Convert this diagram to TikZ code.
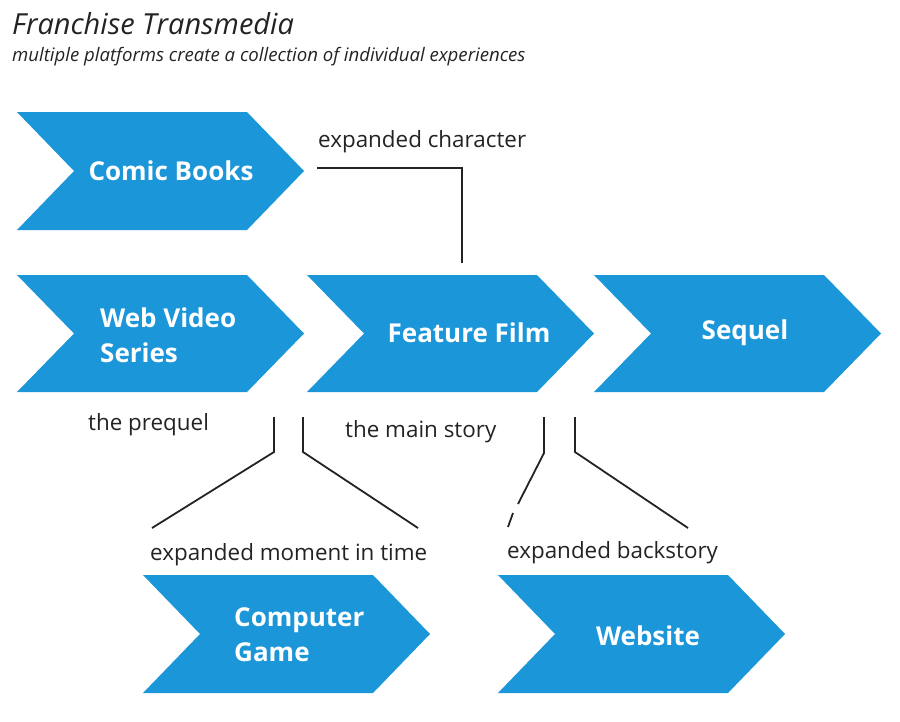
\documentclass[tikz,border=0pt]{standalone}
\usepackage{fontspec}
\setmainfont{Open Sans}
\definecolor{chevblue}{RGB}{27,150,216}
\definecolor{ink}{RGB}{35,35,35}
\tikzset{
  chevtext/.style={text=white, font=\bfseries\fontsize{26}{35}\selectfont, align=left, inner sep=0pt},
  lbl/.style={text=ink, font=\fontsize{22.4}{26}\selectfont, inner sep=0pt, anchor=west},
  conn/.style={draw=ink, line width=1.8pt},
}
\newcommand\chevshape[3]{%
  \fill[chevblue] (#1,#2) -- ({#1+230},#2) -- ({#1+287},{(#2+#3)/2}) -- ({#1+230},#3) -- (#1,#3) -- ({#1+57},{(#2+#3)/2}) -- cycle;}
\begin{document}
\begin{tikzpicture}[x=1pt,y=-1pt]
\useasboundingbox (0,0) rectangle (900,721);
% title
\node[anchor=base west, inner sep=0pt, text=ink, font=\itshape\fontsize{29}{34}\selectfont] (title) at (12,34) {Franchise Transmedia};
\node[anchor=base west, inner sep=0pt, text=ink, font=\itshape\fontsize{18.6}{22}\selectfont] (subtitle) at (12,61) {multiple platforms create a collection of individual experiences};
% chevrons
\chevshape{17}{112}{230}
\chevshape{17}{275}{392}
\chevshape{307}{275}{392}
\chevshape{594}{275}{392}
\chevshape{143}{575}{693}
\chevshape{498}{575}{693}
\node[chevtext] (comic) at (171,171) {Comic Books};
\node[chevtext, anchor=west] (web) at (100,335) {Web Video\\Series};
\node[chevtext] (film) at (469,333) {Feature Film};
\node[chevtext] (sequel) at (745,333) {Sequel};
\node[chevtext, anchor=west] (game) at (234,635) {Computer\\Game};
\node[chevtext] (website) at (648,636) {Website};
% labels
\node[lbl] (lchar) at (318,142) {expanded character};
\node[lbl] (lprequel) at (88,425) {the prequel};
\node[lbl] (lmain) at (345,432) {the main story};
\node[lbl] (lmoment) at (150,555) {expanded moment in time};
\node[lbl] (lback) at (507,553) {expanded backstory};
% connector points
\coordinate (c1) at (317,168);
\coordinate (c2) at (462,168);
\coordinate (c3) at (462,263);
\coordinate (a1) at (274,417);
\coordinate (a2) at (274,452);
\coordinate (a3) at (152,528);
\coordinate (b1) at (303,417);
\coordinate (b2) at (303,452);
\coordinate (b3) at (418,528);
\coordinate (d1) at (544,417);
\coordinate (d2) at (544,453);
\coordinate (d3) at (518,504);
\coordinate (d4) at (513,513);
\coordinate (d5) at (508,527);
\coordinate (e1) at (575,417);
\coordinate (e2) at (575,452);
\coordinate (e3) at (688,528);
\draw[conn] (c1) -- (c2) -- (c3);
\draw[conn] (a1) -- (a2) -- (a3);
\draw[conn] (b1) -- (b2) -- (b3);
\draw[conn] (d1) -- (d2) -- (d3);
\draw[conn] (d4) -- (d5);
\draw[conn] (e1) -- (e2) -- (e3);
\end{tikzpicture}
\end{document}
